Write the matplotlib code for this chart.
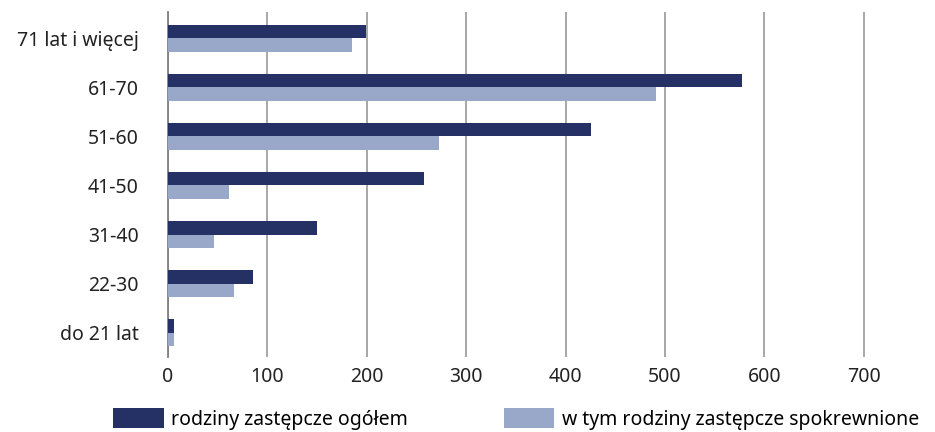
import numpy as np
import matplotlib
matplotlib.use("Agg")
import matplotlib.pyplot as plt

plt.rcParams['font.family'] = ['Noto Sans', 'DejaVu Sans']

# age groups, bottom to top
categories = ["do 21 lat", "22-30", "31-40", "41-50", "51-60", "61-70", "71 lat i więcej"]
total = [6, 86, 150, 258, 426, 577, 199]
kinship = [6, 67, 47, 62, 273, 491, 185]
series_names = ["rodziny zastępcze ogółem", "w tym rodziny zastępcze spokrewnione"]
xticks = [0, 100, 200, 300, 400, 500, 600, 700]

dark = "#253165"
light = "#99a7c9"

fig = plt.figure(figsize=(9.35, 4.32), dpi=100)
ax = fig.add_axes([0.1794, 0.174, 0.82, 0.798])

y = np.arange(len(categories))
h = 0.275
ax.barh(y + h / 2, total, height=h, color=dark, label=series_names[0], zorder=3)
ax.barh(y - h / 2, kinship, height=h, color=light, label=series_names[1], zorder=3)

ax.set_xlim(0, 771)
ax.set_ylim(-0.49, 6.53)
ax.set_xticks(xticks)
ax.set_yticks(y)
ax.set_yticklabels(categories)
ax.xaxis.grid(True, color="#a0a0a0", linewidth=1.3, zorder=0)
ax.set_axisbelow(True)

for s in ["top", "right", "bottom"]:
    ax.spines[s].set_visible(False)
ax.spines["left"].set_color("#808080")
ax.spines["left"].set_linewidth(1.3)
ax.tick_params(axis="both", length=0, labelsize=14, labelcolor="#222222")
ax.tick_params(axis="y", pad=21)
ax.tick_params(axis="x", pad=7)

fig.legend(loc="center left", bbox_to_anchor=(0.121, 0.03), ncol=2, frameon=False,
           fontsize=14, handlelength=2.6, handleheight=1.2, handletextpad=0.4,
           columnspacing=4.9, borderpad=0, borderaxespad=0)

fig.savefig("out.png", dpi=100)
